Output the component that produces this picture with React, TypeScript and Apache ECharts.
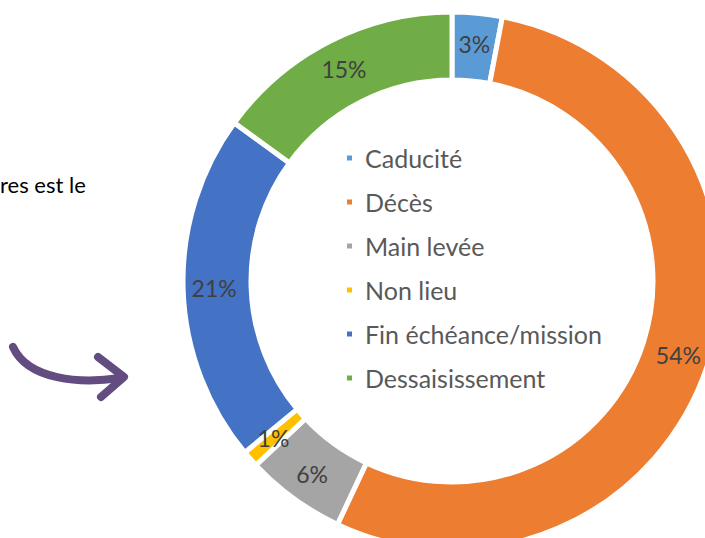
import React, { useEffect, useRef } from "react";
import * as echarts from "echarts";

const categories = ["Caducité", "Décès", "Main levée", "Non lieu", "Fin échéance/mission", "Dessaisissement"];
const values = [3, 54, 6, 1, 21, 15];
const colors = ["#5B9BD5", "#ED7D31", "#A5A5A5", "#FFC000", "#4472C4", "#70AD47"];
const sideText = "res est le";

export default function App() {
  const ref = useRef<HTMLDivElement>(null);
  useEffect(() => {
    document.body.style.margin = "0";
    const chart = echarts.init(ref.current!, null, { renderer: "svg" });
    chart.setOption({
      animation: false,
      backgroundColor: "#ffffff",
      color: colors,
      legend: {
        orient: "vertical",
        left: 340,
        top: 140,
        icon: "rect",
        itemWidth: 7,
        itemHeight: 7,
        itemGap: 18,
        selectedMode: false,
        data: categories,
        textStyle: {
          fontFamily: "Lato",
          fontSize: 25,
          color: "#595959",
          lineHeight: 26,
          padding: [0, 0, 0, 7],
        },
      },
      graphic: [
        {
          type: "text",
          left: 0,
          top: 173,
          style: { text: sideText, fontFamily: "Lato", fontSize: 22, fill: "#000000" },
        },
        {
          type: "bezierCurve",
          shape: { x1: 13, y1: 347, cpx1: 28, cpy1: 380, cpx2: 80, cpy2: 384, x2: 120, y2: 378 },
          style: { stroke: "#634C80", lineWidth: 8, lineCap: "round", fill: null },
        },
        {
          type: "polyline",
          shape: { points: [[98, 357], [124, 377], [101, 397]] },
          style: { stroke: "#634C80", lineWidth: 8, lineCap: "round", lineJoin: "round", fill: null },
        },
      ],
      series: [
        {
          type: "pie",
          center: [452, 281],
          radius: [201, 269],
          startAngle: 90,
          clockwise: true,
          silent: true,
          itemStyle: { borderColor: "#ffffff", borderWidth: 5 },
          label: {
            show: true,
            position: "inside",
            formatter: (p: any) => p.value + "%",
            fontFamily: "Lato",
            fontSize: 23,
            color: "#404040",
          },
          labelLine: { show: false },
          data: categories.map((c, i) => ({ name: c, value: values[i] })),
        },
      ],
    });
    return () => chart.dispose();
  }, []);
  return <div ref={ref} style={{ width: 705, height: 538 }} />;
}
